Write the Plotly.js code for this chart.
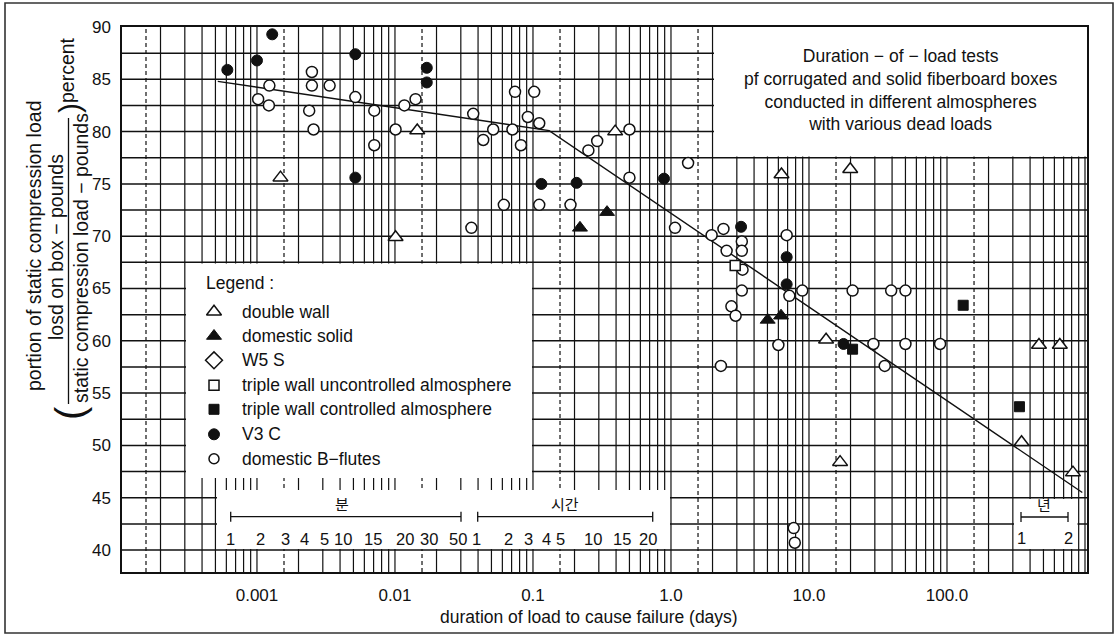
<!DOCTYPE html>
<html><head><meta charset="utf-8">
<script src="https://cdn.plot.ly/plotly-3.0.1.min.js"></script>
<style>html,body{margin:0;padding:0;background:#fff}#chart{width:1118px;height:636px}</style>
</head><body><div id="chart"></div>
<script>
// ================= DATA =================
// duration of load to cause failure (days) / portion of static compression load (percent)
const doubleWallDays = [0.00148, 0.0101, 0.0145, 0.394, 6.32, 19.9, 13.3, 16.8, 464, 657, 347, 818];
const doubleWallPct  = [75.6, 69.9, 80.1, 80.0, 75.9, 76.4, 60.1, 48.4, 59.6, 59.6, 50.3, 47.4];

const domesticSolidDays = [0.219, 0.344, 5.02, 6.27];
const domesticSolidPct  = [70.8, 72.3, 62.0, 62.4];

const w5sDays = [];
const w5sPct  = [];

const tripleUncontrolledDays = [2.92];
const tripleUncontrolledPct  = [67.2];

const tripleControlledDays = [131, 20.7, 335];
const tripleControlledPct  = [63.4, 59.2, 53.7];

const v3cDays = [0.00061, 0.001, 0.00129, 0.00516, 0.00516, 0.0170, 0.0170, 0.115, 0.207, 0.89, 3.22, 6.89, 6.89, 17.8];
const v3cPct  = [85.9, 86.8, 89.3, 87.4, 75.6, 86.1, 84.7, 75.0, 75.1, 75.5, 70.9, 68.0, 65.4, 59.7];

const bFlutesDays = [0.00102,0.00123,0.00122,0.00250,0.00250,0.00336,0.00239,0.00257,0.00516,0.00708,0.00708,0.0101,0.0117,0.0141,0.0369,0.0436,0.0515,0.0358,0.0615,0.0741,0.102,0.0918,0.0710,0.0818,0.111,0.111,0.500,0.292,0.252,1.33,0.500,0.187,1.07,1.97,2.40,2.53,3.26,3.26,3.30,3.26,2.74,2.94,6.89,7.21,8.94,20.7,39.4,50.0,6.00,2.30,29.3,50.0,89.1,35.4,7.75,7.89];
const bFlutesPct  = [83.1,84.4,82.5,85.7,84.4,84.4,82.0,80.2,83.3,82.0,78.7,80.2,82.5,83.1,81.7,79.2,80.2,70.8,73.0,83.8,83.8,81.4,80.2,78.7,80.8,73.0,80.2,79.1,78.2,77.0,75.6,73.0,70.8,70.1,70.7,68.6,69.5,68.6,66.8,64.8,63.3,62.4,70.1,64.3,64.8,64.8,64.8,64.8,59.6,57.6,59.7,59.7,59.7,57.6,42.1,40.7];

// trend line through the data
const fitDays = [0.00052, 0.131, 956];
const fitPct  = [84.8, 80.1, 45.5];

// tick labels
const xTickVals = [0.001, 0.01, 0.1, 1, 10, 100];
const xTickText = ['0.001', '0.01', '0.1', '1.0', '10.0', '100.0'];
const yTickVals = [40, 45, 50, 55, 60, 65, 70, 75, 80, 85, 90];

// texts
const legendTitle = 'Legend :';
const legendLabels = ['double wall', 'domestic solid', 'W5 S', 'triple wall uncontrolled almosphere',
  'triple wall controlled almosphere', 'V3 C', 'domestic B\u2212flutes'];
const boxTitleLines = ['Duration \u2212 of \u2212 load tests', 'pf corrugated and solid fiberboard boxes',
  'conducted in different almospheres', 'with various dead loads'];
const xTitle = 'duration of load to cause failure (days)';
const yTitleTop = 'portion of static compression load';
const yTitleNum = 'losd on box \u2212 pounds';
const yTitleDen = 'static compression load \u2212 pounds';
const yTitleUnit = 'percent';
const minuteName = '분', hourName = '시간', yearName = '년';
const minuteLabels = ['1', '2', '3', '4', '5', '10', '15', '20', '30', '50'];
const hourLabels = ['1', '2', '3', '4', '5', '10', '15', '20'];
const yearLabels = ['1', '2'];

// ================= LAYOUT GEOMETRY (pixels) =================
const L = 122, R = 1087, T = 27, B = 572;
const X_RANGE = [-3.978, 3.0145];
const Y_RANGE = [37.9, 90];
const xp = px => (px - L) / (R - L);
const yp = py => (B - py) / (B - T);
const dayAt = px => Math.pow(10, X_RANGE[0] + (px - L) / (R - L) * (X_RANGE[1] - X_RANGE[0]));
const pctAt = py => Y_RANGE[1] - (py - T) / (B - T) * (Y_RANGE[1] - Y_RANGE[0]);

const FONT = 'Liberation Sans, Arial, Helvetica, sans-serif';
const KFONT = 'Noto Sans CJK KR, sans-serif';
const INK = '#111';

// ================= GRID (as line traces) =================
const xmin = Math.pow(10, X_RANGE[0]), xmax = Math.pow(10, X_RANGE[1]);
const vgx = [], vgy = [], dgx = [], dgy = [], hgx = [], hgy = [];
for (let n = -4; n <= 3; n++) {
  for (let k = 1; k <= 9; k++) {
    const v = k * Math.pow(10, n);
    if (v > xmin && v < xmax) { vgx.push(v, v, null); vgy.push(Y_RANGE[0], Y_RANGE[1], null); }
  }
  const d = 1.57 * Math.pow(10, n);
  if (d > xmin && d < xmax) { dgx.push(d, d, null); dgy.push(Y_RANGE[0], Y_RANGE[1], null); }
}
for (let y = 40; y < 90; y += 2.5) { hgx.push(xmin, xmax, null); hgy.push(y, y, null); }

const traces = [];
const lineTrace = (x, y, w, dash) => ({type: 'scatter', mode: 'lines', x, y, hoverinfo: 'skip', showlegend: false,
  line: {color: INK, width: w, dash: dash || 'solid'}});
traces.push(lineTrace(hgx, hgy, 1.5));
traces.push(lineTrace(vgx, vgy, 1.2));
traces.push(lineTrace(dgx, dgy, 1.2, '4px,3px'));

// white panels (cover grid)
function panel(x0, x1, y0, y1) {
  return {type: 'scatter', mode: 'lines', fill: 'toself', fillcolor: '#fff', hoverinfo: 'skip', showlegend: false,
    line: {width: 0, color: 'rgba(0,0,0,0)'},
    x: [dayAt(x0), dayAt(x1), dayAt(x1), dayAt(x0), dayAt(x0)],
    y: [pctAt(y0), pctAt(y0), pctAt(y1), pctAt(y1), pctAt(y0)]};
}
traces.push(panel(714, 1087, 27, 156.5));   // title panel
traces.push(panel(186, 532, 263.5, 478));   // legend panel
traces.push(panel(217, 670, 490, 549));     // minutes / hours ruler
traces.push(panel(1014, 1077.5, 499, 549)); // years ruler

// trend line
traces.push({type: 'scatter', mode: 'lines', x: fitDays, y: fitPct, hoverinfo: 'skip', showlegend: false,
  line: {color: INK, width: 1.4}});

// data series
const openC = {color: '#fff', line: {color: INK, width: 1.5}};
const fillC = {color: INK, line: {color: INK, width: 1}};
const series = [
  {x: bFlutesDays, y: bFlutesPct, m: Object.assign({symbol: 'circle', size: 11}, openC)},
  {x: doubleWallDays, y: doubleWallPct, m: Object.assign({symbol: 'triangle-up', size: 13}, openC)},
  {x: domesticSolidDays, y: domesticSolidPct, m: Object.assign({symbol: 'triangle-up', size: 13}, fillC)},
  {x: w5sDays, y: w5sPct, m: Object.assign({symbol: 'diamond', size: 12}, openC)},
  {x: tripleUncontrolledDays, y: tripleUncontrolledPct, m: Object.assign({symbol: 'square', size: 10}, openC)},
  {x: tripleControlledDays, y: tripleControlledPct, m: Object.assign({symbol: 'square', size: 10}, fillC)},
  {x: v3cDays, y: v3cPct, m: Object.assign({symbol: 'circle', size: 11}, fillC)}
];
series.forEach(s => traces.push({type: 'scatter', mode: 'markers', x: s.x, y: s.y, marker: s.m,
  hoverinfo: 'skip', showlegend: false}));

// legend symbols (drawn by hand inside the legend panel)
const legendRowsPx = [311.7, 336, 360.3, 385.3, 409.3, 434.3, 458.7];
const legendMarkers = [
  Object.assign({symbol: 'triangle-up', size: 13}, openC),
  Object.assign({symbol: 'triangle-up', size: 13}, fillC),
  Object.assign({symbol: 'diamond', size: 13}, openC),
  Object.assign({symbol: 'square', size: 10}, openC),
  Object.assign({symbol: 'square', size: 10}, fillC),
  Object.assign({symbol: 'circle', size: 11}, fillC),
  Object.assign({symbol: 'circle', size: 10}, openC)
];
legendMarkers.forEach((m, i) => traces.push({type: 'scatter', mode: 'markers',
  x: [dayAt(214)], y: [pctAt(legendRowsPx[i])], marker: m, hoverinfo: 'skip', showlegend: false}));

// ================= ANNOTATIONS =================
const ann = [];
const txt = (text, px, py, opts) => ann.push(Object.assign({text, x: xp(px), y: yp(py), xref: 'paper', yref: 'paper',
  showarrow: false, xanchor: 'center', yanchor: 'middle', font: {family: FONT, size: 17.5, color: INK}}, opts || {}));

txt(boxTitleLines.join('<br>'), 901, 90);
txt(xTitle, 589, 617);
txt(legendTitle, 203.6, 283, {xanchor: 'left'});
legendLabels.forEach((s, i) => txt(s, 239.5, legendRowsPx[i], {xanchor: 'left'}));

// y-axis title (fraction)
const yFont = {family: FONT, size: 19.5, color: INK};
txt(yTitleTop, 34, 246, {textangle: -90, font: yFont});
txt(yTitleNum, 56, 247, {textangle: -90, font: yFont});
txt(yTitleDen, 81, 258, {textangle: -90, font: yFont});
txt(yTitleUnit, 67, 70, {textangle: -90, font: yFont});
txt(')', 70, 108, {textangle: -90, font: {family: FONT, size: 30, color: INK}});
txt('(', 70, 413, {textangle: -90, font: {family: FONT, size: 40, color: INK}});

// rulers
const minuteLabelPx = [230.7, 260.7, 285, 304.3, 324, 342.7, 372.7, 405, 429.3, 458.3];
const hourLabelPx = [476.7, 508.3, 528.3, 546.7, 560, 593.3, 621.7, 648.3];
const yearLabelPx = [1021, 1068];
const rulerFont = {family: FONT, size: 16.5, color: INK};
minuteLabels.forEach((s, i) => txt(s, minuteLabelPx[i], 538.5, {font: rulerFont}));
hourLabels.forEach((s, i) => txt(s, hourLabelPx[i], 538.5, {font: rulerFont}));
yearLabels.forEach((s, i) => txt(s, yearLabelPx[i], 538, {font: rulerFont}));
const kFont = {family: KFONT, size: 15, color: INK};
txt(minuteName, 341.7, 503, {font: kFont});
txt(hourName, 565, 503, {font: kFont});
txt(yearName, 1043.7, 504, {font: kFont});

// ================= SHAPES =================
const shapes = [];
const seg = (x0, y0, x1, y1, w) => shapes.push({type: 'line', xref: 'paper', yref: 'paper', layer: 'above',
  x0: xp(x0), y0: yp(y0), x1: xp(x1), y1: yp(y1), line: {color: INK, width: w || 1.3}});
function bracket(a, b, y) { seg(a, y, b, y); seg(a, y - 5, a, y + 5); seg(b, y - 5, b, y + 5); }
bracket(230.7, 461, 516.7);
bracket(477.7, 652.7, 516.7);
bracket(1021, 1068, 517);
seg(68.5, 118, 68.5, 404, 1.3); // fraction bar
shapes.push({type: 'rect', xref: 'paper', yref: 'paper', layer: 'above',
  x0: xp(5), x1: xp(1113), y0: yp(3), y1: yp(633), line: {color: '#333', width: 1.6}});

const layout = {
  width: 1118, height: 636,
  margin: {l: L, r: 1118 - R, t: T, b: 636 - B, pad: 0},
  paper_bgcolor: '#fff', plot_bgcolor: '#fff',
  showlegend: false, hovermode: false,
  xaxis: {type: 'log', range: X_RANGE, tickmode: 'array', tickvals: xTickVals, ticktext: xTickText,
    showgrid: false, zeroline: false, showline: true, mirror: true, linecolor: INK, linewidth: 1.6,
    ticks: '', ticklabelstandoff: 7, tickfont: {family: FONT, size: 17, color: INK}, fixedrange: true},
  yaxis: {range: Y_RANGE, tickmode: 'array', tickvals: yTickVals,
    showgrid: false, zeroline: false, showline: true, mirror: true, linecolor: INK, linewidth: 1.6,
    ticks: '', ticklabelstandoff: 6, tickfont: {family: FONT, size: 17, color: INK}, fixedrange: true},
  annotations: ann,
  shapes: shapes
};

Plotly.newPlot('chart', traces, layout, {staticPlot: true, displayModeBar: false});
</script>
</body></html>
